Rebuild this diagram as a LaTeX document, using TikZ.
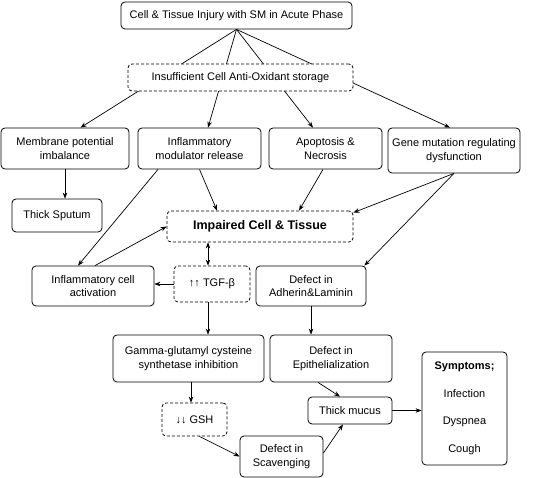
\documentclass[tikz,border=0pt]{standalone}
\usepackage{fontspec}
\setmainfont{Liberation Sans}
\usetikzlibrary{arrows.meta,positioning,calc}

\begin{document}
\begin{tikzpicture}[
    x=1pt, y=-1pt,
    box/.style={draw, rounded corners=4pt, line width=0.8pt, fill=white, align=center, inner sep=1pt,
      font=\fontsize{11}{13.5}\selectfont},
    dbox/.style={box, dash pattern=on 3pt off 2pt},
    >={Stealth[length=6pt,width=4.5pt]},
    every path/.append style={line width=0.7pt}
  ]
    \useasboundingbox (0,0) rectangle (555,478);
    % acute phase and its four results
    \node[box, minimum width=231, minimum height=27] (top) at (236.5,15.5) {Cell \& Tissue Injury with SM in Acute Phase};
    \node[box, minimum width=128, minimum height=41] (mem) at (65,148.5) {Membrane potential\\imbalance};
    \node[box, minimum width=123, minimum height=41] (inf) at (199.5,148.5) {Inflammatory\\modulator release};
    \node[box, minimum width=113, minimum height=41] (apo) at (325.5,148.5) {Apoptosis \&\\Necrosis};
    \node[box, minimum width=132, minimum height=45] (gene) at (454,150.5) {Gene mutation regulating\\dysfunction};
    \node[box, minimum width=90, minimum height=33] (spu) at (57,215.5) {Thick Sputum};

    % middle part
    \node[dbox, minimum width=186, minimum height=31, font=\fontsize{12.5}{15}\selectfont\bfseries] (imp) at (260,226.5) {Impaired Cell \& Tissue};
    \node[box, minimum width=122, minimum height=40] (act) at (93,286) {Inflammatory cell\\activation};
    \node[dbox, minimum width=76, minimum height=36] (tgf) at (212,284) {↑↑ TGF-β};
    \node[box, minimum width=110, minimum height=40] (adh) at (311,286) {Defect in\\Adherin\&Laminin};

    % lower part
    \node[box, minimum width=151, minimum height=47] (gam) at (188.5,358.5) {Gamma-glutamyl cysteine\\synthetase inhibition};
    \node[box, minimum width=122, minimum height=47] (epi) at (331,358.5) {Defect in\\Epithelialization};
    \node[dbox, minimum width=65, minimum height=33] (gsh) at (194.5,419.5) {↓↓ GSH};
    \node[box, minimum width=84, minimum height=27] (muc) at (350,410.5) {Thick mucus};
    \node[box, minimum width=83, minimum height=41] (sca) at (281.5,456.5) {Defect in\\Scavenging};
    \node[box, minimum width=85, minimum height=113] (sym) at (464.5,408.5) {\textbf{Symptoms;}\\[14pt]Infection\\[14pt]Dyspnea\\[14pt]Cough};

    \draw[->] (top.south) -- ([xshift=15.5pt]mem.north);
    \draw[->] (top.south) -- ([xshift=8.5pt]inf.north);
    \draw[->] (top.south) -- ([xshift=-12.5pt]apo.north);
    \draw[->] (top.south) -- ([xshift=-4pt]gene.north);
    % dashed box goes over the four arrows
    \node[dbox, minimum width=225, minimum height=27] (ins) at (240.5,77.5) {Insufficient Cell Anti-Oxidant storage};

    \draw[->] (mem.south) -- (mem.south |- spu.north);
    \draw[->] (inf.south) -- ([xshift=-43pt]imp.north);
    \draw[->] ([xshift=-2.5pt]apo.south) -- ([xshift=39pt]imp.north);
    \draw[->] (gene.south) -- ([yshift=-2pt]imp.north east);
    \draw[->] (gene.south) -- ([xshift=-2pt]adh.north east);
    \draw[->] ([xshift=-41.5pt]inf.south) -- ([xshift=-15pt]act.north);
    \draw[->] ([xshift=2pt]act.north) -- (imp.west);
    \draw[<->] ([xshift=-4pt]tgf.north) -- ([xshift=-4pt]tgf.north |- imp.south);
    \draw[->] (tgf.west) -- (act.east |- tgf.west);
    \draw[->] ([xshift=-4pt]tgf.south) -- ([xshift=-4pt]tgf.south |- gam.north);
    \draw[->] (adh.south) -- (adh.south |- epi.north);
    \draw[->] ([xshift=2.5pt]gam.south) -- ([xshift=2.5pt]gam.south |- gsh.north);
    \draw[->] ([xshift=-13pt]epi.south) -- ([xshift=-10pt]muc.north);
    \draw[->] ([xshift=5pt]gsh.south) -- (sca.west);
    \draw[->] ([yshift=3.5pt]sca.east) -- ([xshift=-7pt]muc.south);
    \draw[->] (muc.east) -- (sym.west |- muc.east);
  \end{tikzpicture}
\end{document}
